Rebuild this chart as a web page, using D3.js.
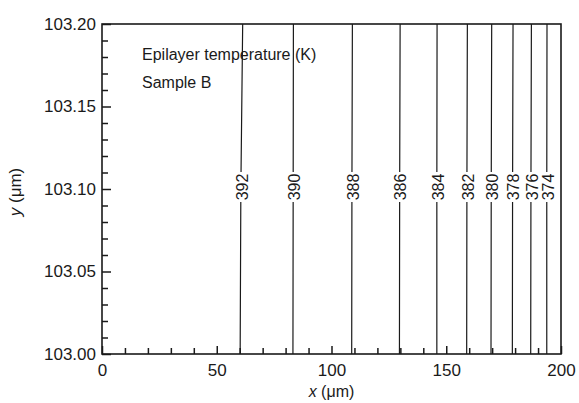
<!DOCTYPE html>
<html>
<head>
<meta charset="utf-8">
<script src="https://cdn.jsdelivr.net/npm/d3@7"></script>
<style>
  body { margin: 0; background: #fff; }
  svg { font-family: "Liberation Sans", Arial, sans-serif; }
</style>
</head>
<body>
<div class="chart"></div>
<script>
// contour levels (K) and their x positions (um) at y = 103.00, 103.10, 103.20
const levels = [392, 390, 388, 386, 384, 382, 380, 378, 376, 374];
const xBottom = [60.2, 83.2, 108.8, 129.6, 145.9, 158.9, 169.5, 178.8, 186.8, 193.8];
const xMiddle = [60.5, 83.3, 108.9, 129.7, 145.9, 159.0, 169.6, 178.9, 186.9, 193.8];
const xTop = [61.3, 83.4, 109.1, 129.9, 146.0, 159.2, 169.8, 179.1, 187.1, 193.9];
const yLevels = [103.00, 103.10, 103.20];

const xTicks = [0, 50, 100, 150, 200];
const yTicks = [103.00, 103.05, 103.10, 103.15, 103.20];

// set size of the chart
const W = 579, H = 403;
const margin = { top: 24, right: 18, bottom: 49, left: 102 };

const svg = d3.select("div.chart")
    .append("svg")
    .attr("width", W)
    .attr("height", H);

const xScale = d3.scaleLinear()
    .domain([0, 200])
    .range([margin.left, W - margin.right]);

const yScale = d3.scaleLinear()
    .domain([103.00, 103.20])
    .range([H - margin.bottom, margin.top]);

const ink = "#1a1a1a";

// contour lines
const line = d3.line()
    .x(d => xScale(d[0]))
    .y(d => yScale(d[1]))
    .curve(d3.curveMonotoneY);

const contours = levels.map((lv, i) => ({
    level: lv,
    pts: [[xBottom[i], yLevels[0]], [xMiddle[i], yLevels[1]], [xTop[i], yLevels[2]]]
}));

svg.append("g")
    .selectAll("path")
    .data(contours)
    .enter()
    .append("path")
    .attr("d", d => line(d.pts))
    .attr("fill", "none")
    .attr("stroke", ink)
    .attr("stroke-width", 1.2);

// contour labels, rotated, with a white gap behind
const labels = svg.append("g")
    .selectAll("g")
    .data(contours)
    .enter()
    .append("g")
    .attr("transform", d => "translate(" + (xScale(d.pts[1][0]) + 1) + "," + (yScale(d.pts[1][1]) - 2) + ") rotate(-90)");

labels.append("rect")
    .attr("x", -15)
    .attr("y", -8)
    .attr("width", 30)
    .attr("height", 16)
    .attr("fill", "#fff");

labels.append("text")
    .attr("text-anchor", "middle")
    .attr("dy", "0.36em")
    .attr("font-size", 16)
    .attr("fill", ink)
    .text(d => d.level);

// axes with inward ticks
const xAxis = d3.axisBottom(xScale)
    .tickValues(d3.range(0, 201, 10))
    .tickSize(-6)
    .tickFormat(d => xTicks.includes(d) ? d : "");

const gx = svg.append("g")
    .attr("transform", "translate(0," + (H - margin.bottom) + ")")
    .call(xAxis);
gx.selectAll(".tick line")
    .attr("y2", d => xTicks.includes(d) ? -8 : -6);

const yAxis = d3.axisLeft(yScale)
    .tickValues(d3.range(0, 21).map(i => 103 + i * 0.01))
    .tickSize(-6)
    .tickFormat(d => yTicks.some(t => Math.abs(t - d) < 1e-9) ? d3.format(".2f")(d) : "");

const gy = svg.append("g")
    .attr("transform", "translate(" + margin.left + ",0)")
    .call(yAxis);
gy.selectAll(".tick line")
    .attr("x2", d => yTicks.some(t => Math.abs(t - d) < 1e-9) ? 9 : 6);

[gx, gy].forEach(g => {
    g.select(".domain").remove();
    g.selectAll(".tick line").attr("stroke", ink).attr("stroke-width", 1.5);
    g.selectAll(".tick text").attr("fill", ink).attr("font-size", 17).attr("font-family", "Liberation Sans, Arial, sans-serif");
});
gx.selectAll(".tick text").attr("y", 10).attr("dy", "0.71em");
gy.selectAll(".tick text").attr("x", -6);

// frame
svg.append("rect")
    .attr("x", xScale(0))
    .attr("y", yScale(103.20))
    .attr("width", xScale(200) - xScale(0))
    .attr("height", yScale(103.00) - yScale(103.20))
    .attr("fill", "none")
    .attr("stroke", ink)
    .attr("stroke-width", 1.6);

// axis titles
const xt = svg.append("text")
    .attr("x", (xScale(0) + xScale(200)) / 2)
    .attr("y", 397)
    .attr("text-anchor", "middle")
    .attr("font-size", 16)
    .attr("fill", ink);
xt.append("tspan").attr("font-style", "italic").text("x");
xt.append("tspan").text(" (\u03bcm)");

const yt = svg.append("text")
    .attr("transform", "translate(21," + (yScale(103.10) + 3) + ") rotate(-90)")
    .attr("text-anchor", "middle")
    .attr("font-size", 17)
    .attr("fill", ink);
yt.append("tspan").attr("font-style", "italic").text("y");
yt.append("tspan").text(" (\u03bcm)");

// annotations
svg.append("text")
    .attr("x", 142)
    .attr("y", 60)
    .attr("font-size", 16)
    .attr("fill", ink)
    .text("Epilayer temperature (K)");

svg.append("text")
    .attr("x", 142)
    .attr("y", 88)
    .attr("font-size", 16)
    .attr("fill", ink)
    .text("Sample B");
</script>
</body>
</html>
